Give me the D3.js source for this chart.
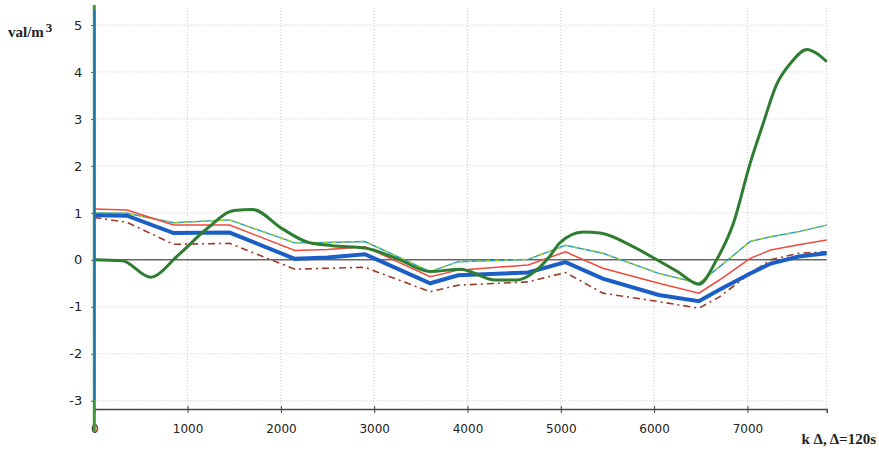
<!DOCTYPE html>
<html lang="en">
<head>
  <meta charset="UTF-8">
  <style>
    body { margin: 0; overflow: hidden; background: #fff; }
    svg { display: block; }
    .grid { stroke: #c8c8c8; stroke-width: 1; stroke-dasharray: 1, 2; }
    .tick text { font-family: "DejaVu Sans", sans-serif; font-size: 12px; fill: #222; }
    .unit { font-family: "Liberation Serif", "DejaVu Serif", serif; font-weight: bold; font-size: 15px; fill: #222; }
  </style>
  <script src="https://d3js.org/d3.v7.min.js"></script>
</head>
<body>
<svg id="chart"></svg>
<script>
  // sample steps k (shared by the four step-like series)
  const steps = [0, 350, 850, 1450, 2150, 2500, 2900, 3600, 3900, 4650, 5050, 5450, 6050, 6480, 6700, 7030, 7250, 7550, 7850];
  const blueVals  = [0.95, 0.94, 0.57, 0.58, 0.02, 0.05, 0.12, -0.5, -0.33, -0.27, -0.05, -0.4, -0.75, -0.88, -0.64, -0.29, -0.08, 0.07, 0.14];
  const redVals   = [1.08, 1.06, 0.74, 0.74, 0.2, 0.22, 0.28, -0.36, -0.22, -0.11, 0.17, -0.18, -0.5, -0.71, -0.43, 0.03, 0.21, 0.32, 0.42];
  const tealVals  = [1.0, 0.99, 0.79, 0.85, 0.36, 0.37, 0.39, -0.25, -0.04, 0.01, 0.31, 0.14, -0.29, -0.5, -0.15, 0.39, 0.49, 0.6, 0.74];
  const brownVals = [0.9, 0.8, 0.33, 0.35, -0.2, -0.18, -0.16, -0.68, -0.54, -0.47, -0.27, -0.71, -0.89, -1.03, -0.79, -0.29, 0.0, 0.14, 0.17];

  // the smooth green curve has its own steps
  const greenSteps = [0, 300, 600, 900, 1200, 1500, 1700, 2000, 2280, 2550, 2900, 3250, 3600, 3920, 4300, 4530, 4740, 4880, 4990, 5240, 5420, 5775, 6030, 6250, 6480, 6670, 6850, 7030, 7170, 7310, 7460, 7640, 7740, 7850];
  const greenVals  = [0, -0.02, -0.37, 0.1, 0.65, 1.05, 1.07, 0.68, 0.38, 0.3, 0.25, 0.02, -0.25, -0.2, -0.43, -0.43, -0.22, 0.07, 0.36, 0.59, 0.57, 0.28, 0.0, -0.25, -0.52, 0.0, 0.78, 2.06, 2.91, 3.72, 4.18, 4.48, 4.4, 4.22];

  const xTicks = [0, 1000, 2000, 3000, 4000, 5000, 6000, 7000];
  const yTicks = [-3, -2, -1, 0, 1, 2, 3, 4, 5];

  const W = 879, H = 454;
  const svg = d3.select("#chart").attr("width", W).attr("height", H);

  const x = d3.scaleLinear().domain([0, 7850]).range([94.3, 826.7]);
  const y = d3.scaleLinear().domain([-3, 5]).range([400.7, 25]);
  const axisY = 409;
  const topY = 8;

  // grid
  const grid = svg.append("g");
  grid.selectAll(".gv").data(xTicks.slice(1).concat([7850])).join("line")
    .attr("class", "grid")
    .attr("x1", d => x(d)).attr("x2", d => x(d))
    .attr("y1", topY).attr("y2", axisY);
  grid.selectAll(".gh").data(yTicks).join("line")
    .attr("class", "grid")
    .attr("x1", x(0)).attr("x2", x(7850))
    .attr("y1", d => y(d)).attr("y2", d => y(d));

  // zero line
  svg.append("line")
    .attr("x1", x(0)).attr("x2", x(7850))
    .attr("y1", y(0)).attr("y2", y(0))
    .attr("stroke", "#222").attr("stroke-width", 1);

  // bottom axis
  const xAxis = svg.append("g")
    .attr("transform", `translate(0,${axisY})`)
    .call(d3.axisBottom(x).tickValues(xTicks).tickSize(4).tickPadding(11).tickFormat(d => String(d)));
  xAxis.select(".domain").attr("stroke", "#444").attr("stroke-width", 1.5);
  xAxis.selectAll(".tick line").attr("stroke", "#444").attr("y1", -3);

  // left axis labels (plain hyphen minus, as in the original)
  const yAxis = svg.append("g")
    .attr("transform", `translate(${x(0)},0)`)
    .call(d3.axisLeft(y).tickValues(yTicks).tickSize(3).tickPadding(9).tickFormat(d => String(d)));
  yAxis.select(".domain").remove();
  yAxis.selectAll(".tick line").attr("stroke", "#444");
  yAxis.selectAll(".tick text").style("font-size", "13px");

  // series
  const linear = d3.line().x(d => x(d[0])).y(d => y(d[1]));
  const smooth = d3.line().x(d => x(d[0])).y(d => y(d[1])).curve(d3.curveMonotoneX);
  const pairs = vals => steps.map((s, i) => [s, vals[i]]);

  svg.append("path").attr("d", linear(pairs(brownVals)))
    .attr("fill", "none").attr("stroke", "#9c3a2a").attr("stroke-width", 1.6)
    .attr("stroke-dasharray", "7,4,2,4");
  svg.append("path").attr("d", linear(pairs(tealVals)))
    .attr("fill", "none").attr("stroke", "#22a0b8").attr("stroke-width", 1.4);
  svg.append("path").attr("d", linear(pairs(tealVals)))
    .attr("fill", "none").attr("stroke", "#a8d030").attr("stroke-width", 1.4)
    .attr("stroke-dasharray", "4,5");
  svg.append("path").attr("d", linear(pairs(redVals)))
    .attr("fill", "none").attr("stroke", "#f04a3a").attr("stroke-width", 1.5);
  svg.append("path").attr("d", linear(pairs(blueVals)))
    .attr("fill", "none").attr("stroke", "#1c5fc4").attr("stroke-width", 4);
  svg.append("path").attr("d", smooth(greenSteps.map((s, i) => [s, greenVals[i]])))
    .attr("fill", "none").attr("stroke", "#2f7d32").attr("stroke-width", 3);

  // vertical left line
  svg.append("line")
    .attr("x1", x(0)).attr("x2", x(0)).attr("y1", 5).attr("y2", 432)
    .attr("stroke", "#3a9a3a").attr("stroke-width", 3);
  svg.append("line")
    .attr("x1", x(0) + 0.5).attr("x2", x(0) + 0.5).attr("y1", 10).attr("y2", 400)
    .attr("stroke", "#1c6ac4").attr("stroke-width", 1.2);

  // unit labels
  svg.append("text").attr("class", "unit").attr("x", 8).attr("y", 37)
    .text("val/m").append("tspan").attr("dx", 2).attr("dy", -5).attr("font-size", 13).text("3");
  svg.append("text").attr("class", "unit").attr("x", 876).attr("y", 444)
    .attr("text-anchor", "end").text("k Δ, Δ=120s");
</script>
</body>
</html>
